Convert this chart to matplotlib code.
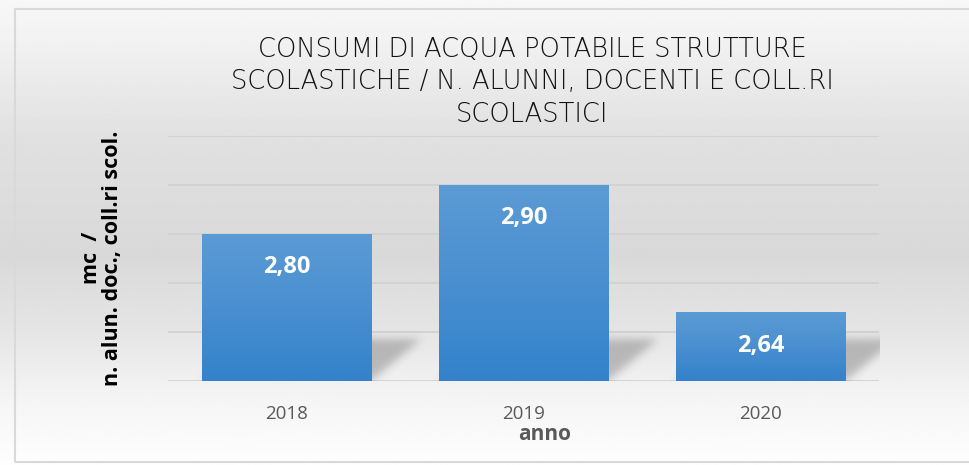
import numpy as np
import matplotlib
matplotlib.use("Agg")
import matplotlib.pyplot as plt
from matplotlib.colors import LinearSegmentedColormap
from matplotlib.patches import Rectangle

years = ["2018", "2019", "2020"]
consumi = [2.80, 2.90, 2.64]
title = "CONSUMI DI ACQUA POTABILE STRUTTURE\nSCOLASTICHE / N. ALUNNI, DOCENTI E COLL.RI\nSCOLASTICI"
ylabel = "mc  /\nn. alun. doc., coll.ri scol."
xlabel = "anno"

YMIN, YMAX = 2.5, 3.0
BAR_W = 0.717

plt.rcParams["font.family"] = ["Open Sans", "DejaVu Sans"]


def gauss_blur(a, sigma):
    r = int(3 * sigma)
    k = np.exp(-0.5 * (np.arange(-r, r + 1) / sigma) ** 2)
    k /= k.sum()
    a = np.apply_along_axis(lambda m: np.convolve(m, k, mode="same"), 0, a)
    a = np.apply_along_axis(lambda m: np.convolve(m, k, mode="same"), 1, a)
    return a


fig = plt.figure(figsize=(9.69, 4.65), dpi=100)

# background gradient + frame
bg = fig.add_axes([0, 0, 1, 1], zorder=-5)
rows = np.linspace(0, 1, 300)
shade = np.interp(rows, [0.0, 0.05, 0.3, 0.55, 0.72, 0.86, 1.0],
                  [0.97, 0.96, 0.88, 0.85, 0.90, 0.96, 0.995])
bg.imshow(np.tile(shade[:, None], (1, 2)), cmap="gray", vmin=0, vmax=1,
          extent=[0, 1, 0, 1], aspect="auto", origin="upper")
bg.add_patch(Rectangle((15 / 969, 3 / 465), 1.1, 453 / 465, fill=False,
                       edgecolor="#d9d9d9", lw=1.5, transform=bg.transAxes))
bg.set_xlim(0, 1)
bg.set_ylim(0, 1)
bg.axis("off")

ax = fig.add_axes([168 / 969, 1 - 381 / 465, 711 / 969, 245 / 465])
ax.patch.set_alpha(0)

x = np.arange(len(years))
ax.set_xlim(-0.5, len(years) - 0.5)
ax.set_ylim(YMIN, YMAX)
ax.set_yticks(np.arange(YMIN, YMAX + 0.01, 0.1))
ax.yaxis.grid(True, color="#d0d0d0", lw=1.2)
ax.set_axisbelow(True)
ax.tick_params(axis="y", left=False, labelleft=False)
ax.tick_params(axis="x", bottom=False, labelsize=13.5, labelcolor="#595959", pad=14)
for s in ax.spines.values():
    s.set_visible(False)

# soft perspective shadow: blurred parallelogram cast back-right of each bar
SH_DX, SH_H = 0.21, 0.085
for xi in x:
    x0, x1 = xi - BAR_W / 2, xi + BAR_W / 2
    ex = [x0 - 0.05, x1 + SH_DX + 0.12, YMIN, YMIN + SH_H + 0.05]
    gx = np.linspace(ex[0], ex[1], 300)
    gy = np.linspace(ex[2], ex[3], 80)
    X, Y = np.meshgrid(gx, gy)
    t = (Y - YMIN) / SH_H
    mask = ((t >= 0) & (t <= 1) & (X >= x0 + SH_DX * t) & (X <= x1 + SH_DX * t)).astype(float)
    mask = gauss_blur(mask, 5)
    rgba = np.zeros(mask.shape + (4,))
    rgba[..., :3] = 0.25
    rgba[..., 3] = mask * 0.3
    ax.imshow(rgba, extent=ex, origin="lower", aspect="auto", zorder=1,
              interpolation="bilinear")

# gradient bars
cmap = LinearSegmentedColormap.from_list("bar", ["#3382cb", "#4a8fd0", "#5b9bd5"])
grad = np.linspace(0, 1, 100)[:, None]
bars = ax.bar(x, [v - YMIN for v in consumi], bottom=YMIN, width=BAR_W,
              color="none", edgecolor="none", zorder=2)
for b, v in zip(bars, consumi):
    x0 = b.get_x()
    im = ax.imshow(grad, cmap=cmap, extent=[x0, x0 + b.get_width(), YMIN, v],
                   aspect="auto", origin="lower", zorder=2)
    im.set_clip_path(b)
    ax.text(b.get_x() + b.get_width() / 2, v - 0.068, f"{v:.2f}".replace(".", ","),
            ha="center", va="center", color="white", fontsize=17,
            fontweight="bold", zorder=3)

ax.set_xlim(-0.5, len(years) - 0.5)
ax.set_ylim(YMIN, YMAX)
ax.set_xticks(x)
ax.set_xticklabels(years)

fig.text(545 / 969, 1 - 435 / 465, xlabel, ha="center", va="center",
         fontsize=15, fontweight="bold", color="#595959")
fig.text(102 / 969, 1 - 258 / 465, ylabel, ha="center", va="center",
         rotation=90, fontsize=15.5, fontweight="bold", color="black",
         linespacing=1.05)
fig.text(532 / 969, 1 - 82 / 465, title, ha="center", va="center",
         fontsize=18.5, color="#111111", linespacing=1.4,
         family=["DejaVu Sans"], fontweight="light")

fig.savefig("out.png", dpi=100)
